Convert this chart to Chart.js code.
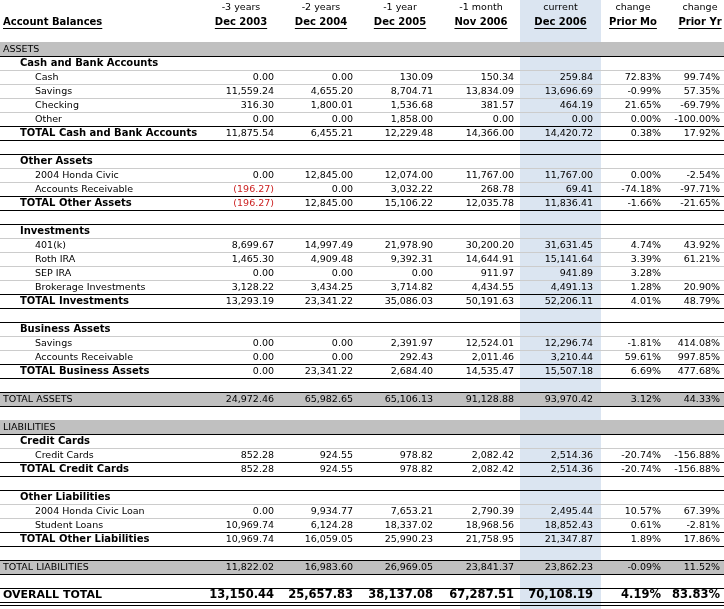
<!DOCTYPE html>
<html>
<head>
<meta charset="utf-8">
<script src="https://cdn.jsdelivr.net/npm/chart.js@4/dist/chart.umd.min.js"></script>
<style>
  html, body { margin: 0; padding: 0; background: #ffffff; }
  #wrap { width: 724px; height: 609px; position: relative; }
</style>
</head>
<body>
<div id="wrap"><canvas id="c" width="724" height="609"></canvas></div>
<script>
// ---------- DATA ----------
const COLUMN_TOPS = ['', '-3 years', '-2 years', '-1 year', '-1 month', 'current', 'change', 'change'];
const COLUMN_TITLES = ['Account Balances', 'Dec 2003', 'Dec 2004', 'Dec 2005', 'Nov 2006', 'Dec 2006', 'Prior Mo', 'Prior Yr'];

const ROW_LABELS = [
  'ASSETS', 'Cash and Bank Accounts', 'Cash', 'Savings', 'Checking', 'Other', 'TOTAL Cash and Bank Accounts', '',
  'Other Assets', '2004 Honda Civic', 'Accounts Receivable', 'TOTAL Other Assets', '',
  'Investments', '401(k)', 'Roth IRA', 'SEP IRA', 'Brokerage Investments', 'TOTAL Investments', '',
  'Business Assets', 'Savings', 'Accounts Receivable', 'TOTAL Business Assets', '',
  'TOTAL ASSETS', '',
  'LIABILITIES', 'Credit Cards', 'Credit Cards', 'TOTAL Credit Cards', '',
  'Other Liabilities', '2004 Honda Civic Loan', 'Student Loans', 'TOTAL Other Liabilities', '',
  'TOTAL LIABILITIES', '',
  'OVERALL TOTAL'
];
const ROW_KIND = [
  'band', 'group', 'item', 'item', 'item', 'item', 'total', 'blank',
  'group', 'item', 'item', 'total', 'blank',
  'group', 'item', 'item', 'item', 'item', 'total', 'blank',
  'group', 'item', 'item', 'total', 'blank',
  'bandtotal', 'blank',
  'band', 'group', 'item', 'total', 'blank',
  'group', 'item', 'item', 'total', 'blank',
  'bandtotal', 'blank',
  'overall'
];
const N = null;
const DEC_2003 = [N, N, 0.00, 11559.24, 316.30, 0.00, 11875.54, N,
  N, 0.00, -196.27, -196.27, N,
  N, 8699.67, 1465.30, 0.00, 3128.22, 13293.19, N,
  N, 0.00, 0.00, 0.00, N,
  24972.46, N,
  N, N, 852.28, 852.28, N,
  N, 0.00, 10969.74, 10969.74, N,
  11822.02, N,
  13150.44];
const DEC_2004 = [N, N, 0.00, 4655.20, 1800.01, 0.00, 6455.21, N,
  N, 12845.00, 0.00, 12845.00, N,
  N, 14997.49, 4909.48, 0.00, 3434.25, 23341.22, N,
  N, 0.00, 0.00, 23341.22, N,
  65982.65, N,
  N, N, 924.55, 924.55, N,
  N, 9934.77, 6124.28, 16059.05, N,
  16983.60, N,
  25657.83];
const DEC_2005 = [N, N, 130.09, 8704.71, 1536.68, 1858.00, 12229.48, N,
  N, 12074.00, 3032.22, 15106.22, N,
  N, 21978.90, 9392.31, 0.00, 3714.82, 35086.03, N,
  N, 2391.97, 292.43, 2684.40, N,
  65106.13, N,
  N, N, 978.82, 978.82, N,
  N, 7653.21, 18337.02, 25990.23, N,
  26969.05, N,
  38137.08];
const NOV_2006 = [N, N, 150.34, 13834.09, 381.57, 0.00, 14366.00, N,
  N, 11767.00, 268.78, 12035.78, N,
  N, 30200.20, 14644.91, 911.97, 4434.55, 50191.63, N,
  N, 12524.01, 2011.46, 14535.47, N,
  91128.88, N,
  N, N, 2082.42, 2082.42, N,
  N, 2790.39, 18968.56, 21758.95, N,
  23841.37, N,
  67287.51];
const DEC_2006 = [N, N, 259.84, 13696.69, 464.19, 0.00, 14420.72, N,
  N, 11767.00, 69.41, 11836.41, N,
  N, 31631.45, 15141.64, 941.89, 4491.13, 52206.11, N,
  N, 12296.74, 3210.44, 15507.18, N,
  93970.42, N,
  N, N, 2514.36, 2514.36, N,
  N, 2495.44, 18852.43, 21347.87, N,
  23862.23, N,
  70108.19];
const PRIOR_MO = [N, N, 72.83, -0.99, 21.65, 0.00, 0.38, N,
  N, 0.00, -74.18, -1.66, N,
  N, 4.74, 3.39, 3.28, 1.28, 4.01, N,
  N, -1.81, 59.61, 6.69, N,
  3.12, N,
  N, N, -20.74, -20.74, N,
  N, 10.57, 0.61, 1.89, N,
  -0.09, N,
  4.19];
const PRIOR_YR = [N, N, 99.74, 57.35, -69.79, -100.00, 17.92, N,
  N, -2.54, -97.71, -21.65, N,
  N, 43.92, 61.21, N, 20.90, 48.79, N,
  N, 414.08, 997.85, 477.68, N,
  44.33, N,
  N, N, -156.88, -156.88, N,
  N, 67.39, -2.81, 17.86, N,
  11.52, N,
  83.83];

const VALUE_SERIES = [DEC_2003, DEC_2004, DEC_2005, NOV_2006, DEC_2006];
const PERCENT_SERIES = [PRIOR_MO, PRIOR_YR];

// ---------- LAYOUT (scale units on the x axis, 0..724) ----------
const LAYOUT = {
  xMax: 724,
  headCenters: [null, 241, 321, 400, 481, 560.5, 633, 700],
  numRight: [null, 274, 353, 433, 514, 593, 661, 720],
  currentCol: [520, 601],
  labelIndent: { band: 3, bandtotal: 3, overall: 3, group: 20, total: 20, item: 35 }
};
const FONT = '"DejaVu Sans", Verdana, sans-serif';

function fmtNum(v) {
  const s = Math.abs(v).toLocaleString('en-US', { minimumFractionDigits: 2, maximumFractionDigits: 2 });
  return v < 0 ? '(' + s + ')' : s;
}
function fmtPct(v) { return v.toFixed(2) + '%'; }

const tablePlugin = {
  id: 'table',
  afterDraw(chart) {
    const ctx = chart.ctx;
    const xS = chart.scales.x, yS = chart.scales.y;
    const X = v => xS.getPixelForValue(v);
    const rowH = yS.getPixelForValue(1) - yS.getPixelForValue(0);
    const rowTop = i => Math.round(yS.getPixelForValue(i) - rowH / 2);
    const rowMid = i => yS.getPixelForValue(i);
    const W = X(LAYOUT.xMax) - X(0);
    ctx.save();

    // current column background
    ctx.fillStyle = '#dbe5f1';
    ctx.fillRect(X(LAYOUT.currentCol[0]), 0, X(LAYOUT.currentCol[1]) - X(LAYOUT.currentCol[0]), chart.height);

    // grey bands
    ctx.fillStyle = '#c0c0c0';
    ROW_KIND.forEach((k, i) => {
      if (k === 'band' || k === 'bandtotal') ctx.fillRect(X(0), rowTop(i), W, rowH);
    });

    // lines
    const hline = (y, color) => { ctx.fillStyle = color; ctx.fillRect(X(0), y, W, 1); };
    const light = '#cccccc', dark = '#000000';
    ROW_KIND.forEach((k, i) => {
      const t = rowTop(i), b = rowTop(i) + rowH;
      const next = ROW_KIND[i + 1];
      if (k === 'band') hline(b, dark);
      if ((k === 'group' || k === 'item') && next === 'item') hline(b, light);
      if (k === 'group') hline(t, dark);
      if (k === 'total' || k === 'bandtotal' || k === 'overall') { hline(t, dark); }
      if (k === 'total' || k === 'bandtotal') hline(b, dark);
      if (k === 'overall') { hline(b, dark); hline(b + 3, dark); }
    });

    // header
    ctx.textBaseline = 'middle';
    ctx.fillStyle = '#000';
    const underline = (x, y, w) => ctx.fillRect(x, y, w, 1);
    ctx.font = 'bold 10px ' + FONT;
    ctx.textAlign = 'left';
    ctx.fillText(COLUMN_TITLES[0], X(3), 22);
    underline(X(3), 28, ctx.measureText(COLUMN_TITLES[0]).width);
    for (let c = 1; c < COLUMN_TITLES.length; c++) {
      const cx = X(LAYOUT.headCenters[c]);
      ctx.textAlign = 'center';
      ctx.font = '9.5px ' + FONT;
      ctx.fillText(COLUMN_TOPS[c], cx, 8);
      ctx.font = 'bold 10px ' + FONT;
      ctx.fillText(COLUMN_TITLES[c], cx, 22);
      const w = ctx.measureText(COLUMN_TITLES[c]).width;
      underline(cx - w / 2, 28, w);
    }

    // body
    ROW_KIND.forEach((k, i) => {
      if (k === 'blank') return;
      const y = rowMid(i) + 0.5;
      const isBoldLabel = (k === 'group' || k === 'total');
      let labelFont = (isBoldLabel ? 'bold 10px ' : '9.5px ') + FONT;
      let numFont = '9.5px ' + FONT;
      if (k === 'overall') { labelFont = 'bold 11px ' + FONT; numFont = 'bold 11.5px ' + FONT; }
      ctx.fillStyle = '#000';
      ctx.textAlign = 'left';
      ctx.font = labelFont;
      ctx.fillText(ROW_LABELS[i], X(LAYOUT.labelIndent[k]), y);
      ctx.font = numFont;
      ctx.textAlign = 'right';
      VALUE_SERIES.forEach((s, j) => {
        const v = s[i];
        if (v === null) return;
        ctx.fillStyle = v < 0 ? '#cc2222' : '#000';
        ctx.fillText(fmtNum(v), X(LAYOUT.numRight[j + 1]), y);
      });
      PERCENT_SERIES.forEach((s, j) => {
        const v = s[i];
        if (v === null) return;
        ctx.fillStyle = '#000';
        ctx.fillText(fmtPct(v), X(LAYOUT.numRight[j + 6]), y);
      });
    });
    ctx.restore();
  }
};

new Chart(document.getElementById('c'), {
  type: 'bar',
  data: { labels: ROW_LABELS.map((l, i) => i + ':' + l), datasets: [] },
  options: {
    indexAxis: 'y',
    responsive: false,
    animation: false,
    devicePixelRatio: 1,
    layout: { padding: { top: 42, bottom: 7, left: 0, right: 0 } },
    scales: {
      x: { type: 'linear', min: 0, max: LAYOUT.xMax, display: false },
      y: { type: 'category', offset: true, display: false }
    },
    plugins: { legend: { display: false }, tooltip: { enabled: false } }
  },
  plugins: [tablePlugin]
});
</script>
</body>
</html>
